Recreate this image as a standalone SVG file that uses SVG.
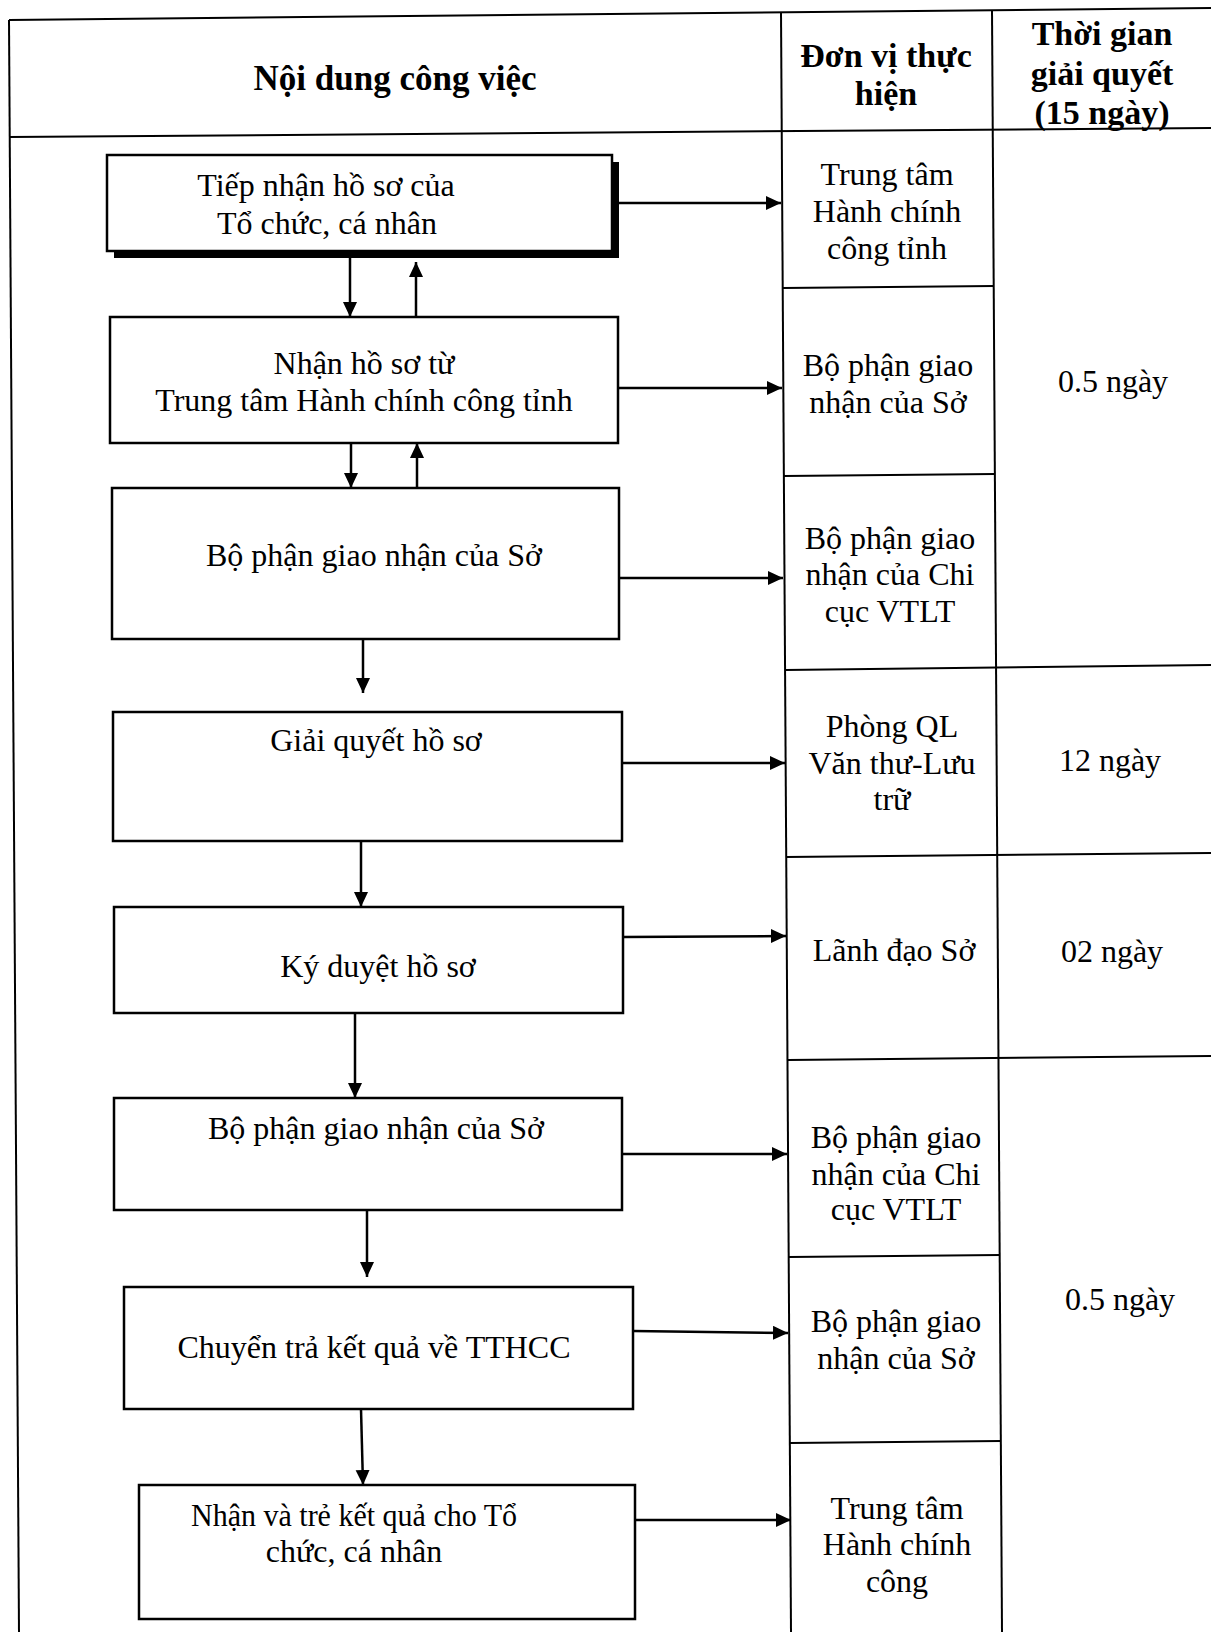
<svg xmlns="http://www.w3.org/2000/svg" width="1211" height="1632" viewBox="0 0 1211 1632">
  <defs>
    <marker id="arrow" markerUnits="userSpaceOnUse" markerWidth="16" markerHeight="16" refX="15" refY="7" orient="auto">
      <path d="M0,0 L15,7 L0,14 Z" fill="#000"/>
    </marker>
    <style>
      .grid { stroke: #000; stroke-width: 2; fill: none; }
      .box { fill: #fff; stroke: #000; stroke-width: 2.5; }
      .shadow { fill: #000; }
      .conn { stroke: #000; stroke-width: 2.5; fill: none; marker-end: url(#arrow); }
      text { font-family: "Liberation Serif", "Times New Roman", serif; font-size: 32px; fill: #000; text-anchor: middle; }
      .hdr { font-weight: bold; font-size: 34px; }
    </style>
  </defs>
  <rect width="1211" height="1632" fill="#fff"/>

  <!-- table frame -->
  <g id="table" class="grid">
    <line x1="9" y1="20" x2="1211" y2="8"/>
    <line x1="9" y1="137" x2="1211" y2="128"/>
    <line x1="9" y1="20" x2="19" y2="1632"/>
    <line x1="781" y1="12" x2="791" y2="1632"/>
    <line x1="992" y1="10" x2="1002" y2="1632"/>
    <!-- unit column rows -->
    <line x1="783" y1="288" x2="994" y2="286"/>
    <line x1="784" y1="476" x2="995" y2="474"/>
    <line x1="785" y1="670" x2="1211" y2="665"/>
    <line x1="786" y1="857" x2="1211" y2="853"/>
    <line x1="788" y1="1060" x2="1211" y2="1056"/>
    <line x1="789" y1="1257" x2="1000" y2="1255"/>
    <line x1="790" y1="1443" x2="1001" y2="1441"/>
  </g>

  <!-- header -->
  <g id="header">
    <text class="hdr" x="395" y="90" style="font-size:35px">Nội dung công việc</text>
    <text class="hdr" x="886" y="67">Đơn vị thực</text>
    <text class="hdr" x="886" y="105">hiện</text>
    <text class="hdr" x="1102" y="45">Thời gian</text>
    <text class="hdr" x="1102" y="85">giải quyết</text>
    <text class="hdr" x="1102" y="124">(15 ngày)</text>
  </g>

  <!-- process steps -->
  <g id="step1">
    <rect class="shadow" x="114" y="162" width="505" height="96"/>
    <rect class="box" x="107" y="155" width="505" height="96"/>
    <text x="326" y="196">Tiếp nhận hồ sơ của</text>
    <text x="327" y="234">Tổ chức, cá nhân</text>
  </g>
  <g id="step2">
    <rect class="box" x="110" y="317" width="508" height="126"/>
    <text x="364" y="374">Nhận hồ sơ từ</text>
    <text x="364" y="411">Trung tâm Hành chính công tỉnh</text>
  </g>
  <g id="step3">
    <rect class="box" x="112" y="488" width="507" height="151"/>
    <text x="374" y="566">Bộ phận giao nhận của Sở</text>
  </g>
  <g id="step4">
    <rect class="box" x="113" y="712" width="509" height="129"/>
    <text x="376" y="751">Giải quyết hồ sơ</text>
  </g>
  <g id="step5">
    <rect class="box" x="114" y="907" width="509" height="106"/>
    <text x="378" y="977">Ký duyệt hồ sơ</text>
  </g>
  <g id="step6">
    <rect class="box" x="114" y="1098" width="508" height="112"/>
    <text x="376" y="1139">Bộ phận giao nhận của Sở</text>
  </g>
  <g id="step7">
    <rect class="box" x="124" y="1287" width="509" height="122"/>
    <text x="374" y="1358">Chuyển trả kết quả về TTHCC</text>
  </g>
  <g id="step8">
    <rect class="box" x="139" y="1485" width="496" height="134"/>
    <text x="354" y="1526" textLength="326" lengthAdjust="spacingAndGlyphs">Nhận và trẻ kết quả cho Tổ</text>
    <text x="354" y="1562">chức, cá nhân</text>
  </g>

  <!-- responsible units -->
  <g id="unit1">
    <text x="887" y="185">Trung tâm</text>
    <text x="887" y="222">Hành chính</text>
    <text x="887" y="259">công tỉnh</text>
  </g>
  <g id="unit2">
    <text x="888" y="376">Bộ phận giao</text>
    <text x="888" y="413">nhận của Sở</text>
  </g>
  <g id="unit3">
    <text x="890" y="549">Bộ phận giao</text>
    <text x="890" y="585">nhận của Chi</text>
    <text x="890" y="622">cục VTLT</text>
  </g>
  <g id="unit4">
    <text x="892" y="737">Phòng QL</text>
    <text x="892" y="774">Văn thư-Lưu</text>
    <text x="892" y="810">trữ</text>
  </g>
  <g id="unit5">
    <text x="894" y="961">Lãnh đạo Sở</text>
  </g>
  <g id="unit6">
    <text x="896" y="1148">Bộ phận giao</text>
    <text x="896" y="1185">nhận của Chi</text>
    <text x="896" y="1220">cục VTLT</text>
  </g>
  <g id="unit7">
    <text x="896" y="1332">Bộ phận giao</text>
    <text x="896" y="1369">nhận của Sở</text>
  </g>
  <g id="unit8">
    <text x="897" y="1519">Trung tâm</text>
    <text x="897" y="1555">Hành chính</text>
    <text x="897" y="1592">công</text>
  </g>

  <!-- durations -->
  <g id="time1"><text x="1113" y="392">0.5 ngày</text></g>
  <g id="time2"><text x="1110" y="771">12 ngày</text></g>
  <g id="time3"><text x="1112" y="962">02 ngày</text></g>
  <g id="time4"><text x="1120" y="1310">0.5 ngày</text></g>

  <!-- connectors -->
  <g id="connectors">
    <line class="conn" x1="619" y1="203" x2="781" y2="203"/>
    <line class="conn" x1="350" y1="258" x2="350" y2="317"/>
    <line class="conn" x1="416" y1="317" x2="416" y2="262"/>
    <line class="conn" x1="618" y1="388" x2="782" y2="388"/>
    <line class="conn" x1="351" y1="443" x2="351" y2="488"/>
    <line class="conn" x1="417" y1="488" x2="417" y2="443"/>
    <line class="conn" x1="619" y1="578" x2="783" y2="578"/>
    <line class="conn" x1="363" y1="640" x2="363" y2="693"/>
    <line class="conn" x1="622" y1="763" x2="785" y2="763"/>
    <line class="conn" x1="361" y1="841" x2="361" y2="907"/>
    <line class="conn" x1="623" y1="937" x2="786" y2="936"/>
    <line class="conn" x1="355" y1="1013" x2="355" y2="1098"/>
    <line class="conn" x1="622" y1="1154" x2="787" y2="1154"/>
    <line class="conn" x1="367" y1="1210" x2="367" y2="1277"/>
    <line class="conn" x1="633" y1="1331" x2="788" y2="1333"/>
    <line class="conn" x1="361" y1="1409" x2="363" y2="1485"/>
    <line class="conn" x1="635" y1="1520" x2="791" y2="1520"/>
  </g>
</svg>
